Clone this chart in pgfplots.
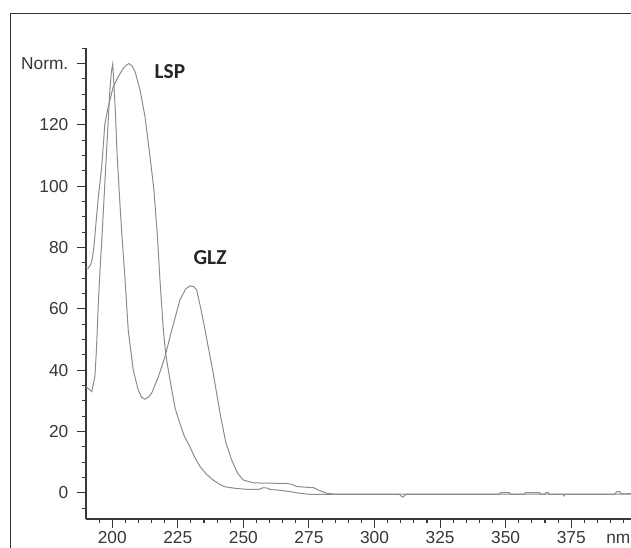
\documentclass[border=0pt]{standalone}
\usepackage{fontspec}
\setmainfont{Liberation Sans}
\newfontfamily\calib{Carlito}
\usepackage{pgfplots}
\pgfplotsset{compat=1.18}
\definecolor{crv}{HTML}{8C8C8C}
\definecolor{axc}{HTML}{383838}

% curve with the sharp peak at 200 nm and the second band near 230 nm
\pgfplotstableread{
x y
190 34.7
191 34.0
192.2 33.0
193.4 38.0
194.0 47.0
194.7 62.0
195.3 72.0
196.0 82.0
197.0 98.0
198.0 114.0
199.1 131.4
199.7 137.5
200.2 139.9
201.1 126.0
201.9 109.7
203.0 93.4
203.7 84.0
204.9 69.4
206.1 53.1
208.0 40.1
209.9 33.6
211.2 31.2
212.5 30.6
213.8 31.2
215.0 32.5
217.6 37.9
220.1 44.4
222.7 53.1
225.8 62.9
228.0 66.5
229.6 67.5
231.0 67.3
232.2 66.2
233.8 60.0
235.4 53.1
238.5 39.0
241.1 26.0
243.3 16.5
245.5 10.8
247.8 6.4
250.0 4.2
253.8 3.3
258.0 3.2
266.5 3.1
268.5 2.8
270.3 2.1
276.7 1.7
279.0 0.8
281.7 -0.1
285.0 -0.4
398.0 -0.4
}\glz

% curve with the broad maximum near 206 nm
\pgfplotstableread{
x y
190.0 73.5
190.8 73.2
191.8 74.5
192.4 76.5
193.0 80.0
193.5 85.0
194.7 96.5
196.0 106.4
197.2 120.5
198.5 126.0
200.4 132.5
202.3 135.7
204.2 138.5
205.5 139.6
206.4 140.0
207.5 139.3
208.7 137.4
210.6 131.4
212.5 122.7
214.4 109.7
215.9 98.8
217.2 84.0
218.2 69.4
219.5 53.1
220.3 46.0
221.0 42.0
222.7 33.6
224.0 27.5
225.8 22.7
227.5 18.5
229.6 15.1
231.5 11.5
233.5 8.6
236.0 6.0
238.5 4.2
241.0 2.8
243.0 2.0
247.0 1.5
251.0 1.2
256.0 1.2
257.5 1.7
259.0 1.6
260.0 1.2
264.6 0.8
268.0 0.4
272.3 -0.2
276.0 -0.5
309.5 -0.5
310.7 -1.4
312.0 -0.5
347.5 -0.5
348.0 0.1
351.5 0.1
352.0 -0.5
357.0 -0.5
357.5 0.1
363.0 0.1
363.5 -0.5
365.0 -0.5
365.3 0.1
366.3 0.1
366.6 -0.5
372.0 -0.5
372.2 -1.0
372.6 -0.5
391.5 -0.5
392.3 0.4
393.5 0.4
394.0 -0.3
400.0 -0.2
}\lsp

\begin{document}
\begin{tikzpicture}
\begin{axis}[
    at={(64.5pt,21pt)}, anchor=south west,
    scale only axis,
    width=413.1pt, height=353.5pt,
    xmin=190, xmax=400,
    ymin=-8.5, ymax=145.2,
    axis x line=bottom, axis y line=left,
    axis line style={-, axc, line width=0.8pt},
    tick align=outside,
    major tick length=6.75pt, minor tick length=3pt,
    every tick/.style={axc, line width=0.8pt},
    xtick={200,225,...,375},
    minor xtick={195,200,...,400},
    ytick={0,20,...,140},
    yticklabels={0,20,40,60,80,100,120,Norm.},
    minor ytick={-5,0,...,145},
    ticklabel style={font=\fontsize{13}{15}\selectfont, text=axc},
    yticklabel style={xshift=-3pt},
    xticklabel style={yshift=1pt},
    /pgf/number format/assume math mode=true,
]
\addplot[crv, line width=0.75pt, no marks] table {\glz};
\addplot[crv, line width=0.75pt, no marks] table {\lsp};
\node[font=\calib\bfseries\fontsize{16}{18}\selectfont, text=black!85] at (axis cs:222,137.3) {LSP};
\node[font=\calib\bfseries\fontsize{16}{18}\selectfont, text=black!85] at (axis cs:237.3,76.6) {GLZ};
\end{axis}
\draw[black!80, line width=0.9pt] (8pt,-5pt) -- (8pt,400.3pt) -- (490pt,400.3pt);
\node[anchor=base west, inner sep=0pt, font=\fontsize{13}{15}\selectfont, text=axc] at (454.5pt,3pt) {nm};
\pgfresetboundingbox
\useasboundingbox (0pt,0pt) rectangle (473.25pt,410.25pt);
\end{tikzpicture}
\end{document}
